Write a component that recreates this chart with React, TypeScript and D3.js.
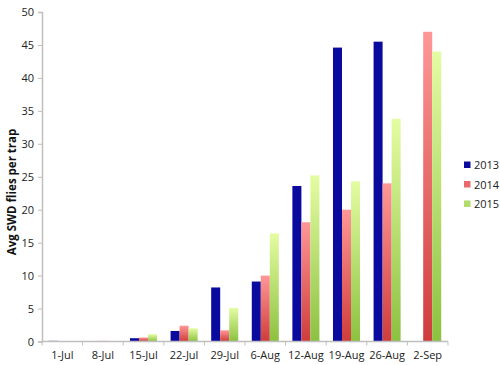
import React, { useEffect, useRef } from 'react';
import * as d3 from 'd3';

const dates = ['1-Jul', '8-Jul', '15-Jul', '22-Jul', '29-Jul', '6-Aug', '12-Aug', '19-Aug', '26-Aug', '2-Sep'];
const years = ['2013', '2014', '2015'];
const v2013 = [0.1, 0.05, 0.5, 1.6, 8.2, 9.1, 23.6, 44.6, 45.5, 0];
const v2014 = [0, 0.1, 0.6, 2.4, 1.7, 10.0, 18.1, 20.0, 24.0, 47.0];
const v2015 = [0, 0, 1.1, 2.0, 5.1, 16.4, 25.2, 24.3, 33.8, 44.0];
const yTicks = [0, 5, 10, 15, 20, 25, 30, 35, 40, 45, 50];

const font = '"Open Sans", "Liberation Sans", sans-serif';

export default function App() {
  const svgRef = useRef<SVGSVGElement>(null);

  useEffect(() => {
    if (!svgRef.current) return;
    const width = 500;
    const height = 365;
    const margin = { top: 12, right: 52, bottom: 23.5, left: 42 };

    d3.select(svgRef.current).selectAll('*').remove();
    const svg = d3.select(svgRef.current).attr('width', width).attr('height', height);

    const defs = svg.append('defs');
    const grads = [
      { id: 'g2013', top: '#0a0a9e', bottom: '#0a0a9e' },
      { id: 'g2014', top: '#ff9797', bottom: '#cf3c3c' },
      { id: 'g2015', top: '#e4fca2', bottom: '#8cc140' },
    ];
    grads.forEach(g => {
      const lg = defs.append('linearGradient').attr('id', g.id)
        .attr('x1', 0).attr('y1', 0).attr('x2', 0).attr('y2', 1);
      lg.append('stop').attr('offset', '0%').attr('stop-color', g.top);
      lg.append('stop').attr('offset', '100%').attr('stop-color', g.bottom);
    });
    const legendColors = ['#0a0a9e', '#e86a6a', '#b2dc6c'];

    const x = d3.scaleBand().domain(dates).range([margin.left, width - margin.right]).padding(0);
    const bw = x.bandwidth();
    const gap = bw * 0.167;
    const xs = d3.scaleBand().domain(years).range([gap, bw - gap]).padding(0);
    const y = d3.scaleLinear().domain([0, 50]).range([height - margin.bottom, margin.top]);

    const series = [v2013, v2014, v2015];
    const rows = dates.flatMap((d, i) => years.map((yr, j) => ({ d, yr, j, v: series[j][i] })));

    svg.append('g').selectAll('rect')
      .data(rows.filter(r => r.v > 0))
      .join('rect')
      .attr('x', r => (x(r.d) || 0) + (xs(r.yr) || 0))
      .attr('width', xs.bandwidth())
      .attr('y', r => y(r.v))
      .attr('height', r => y(0) - y(r.v))
      .attr('fill', r => `url(#g${r.yr})`);

    const axisColor = '#bfbfbf';
    // y axis
    svg.append('g')
      .attr('transform', `translate(${margin.left},0)`)
      .call(d3.axisLeft(y).tickValues(yTicks).tickSize(4).tickPadding(4))
      .call(g => g.select('.domain').attr('stroke', axisColor).attr('stroke-width', 1.5))
      .call(g => g.selectAll('.tick line').attr('stroke', axisColor))
      .call(g => g.selectAll('.tick text').attr('fill', '#222').attr('font-family', font).attr('font-size', '11px'));

    // x axis
    const xg = svg.append('g').attr('transform', `translate(0,${y(0)})`);
    xg.append('line').attr('x1', margin.left).attr('x2', width - margin.right)
      .attr('stroke', axisColor).attr('stroke-width', 1.5);
    xg.selectAll('line.tk')
      .data(dates.map(d => x(d) || 0).concat([width - margin.right]))
      .join('line').attr('class', 'tk')
      .attr('x1', d => d).attr('x2', d => d).attr('y1', 0).attr('y2', 4)
      .attr('stroke', axisColor);
    xg.selectAll('text')
      .data(dates)
      .join('text')
      .attr('x', d => (x(d) || 0) + bw / 2)
      .attr('y', 17)
      .attr('text-anchor', 'middle')
      .attr('font-family', font).attr('font-size', '11px').attr('fill', '#222')
      .text(d => d);

    // y label
    svg.append('text')
      .attr('transform', `translate(16,192) rotate(-90)`)
      .attr('text-anchor', 'middle')
      .attr('font-family', font).attr('font-size', '11.5px').attr('font-weight', 'bold').attr('fill', '#111')
      .text('Avg SWD flies per trap');

    // legend
    const lg = svg.append('g').attr('transform', 'translate(464,165)');
    years.forEach((yr, i) => {
      lg.append('rect').attr('x', 0).attr('y', i * 19.5 - 3.5).attr('width', 6.5).attr('height', 6.5)
        .attr('fill', legendColors[i]);
      lg.append('text').attr('x', 10).attr('y', i * 19.5 + 4)
        .attr('font-family', font).attr('font-size', '11px').attr('fill', '#222')
        .text(yr);
    });
  }, []);

  return <svg ref={svgRef} style={{ position: 'absolute', left: 0, top: 0 }} />;
}
